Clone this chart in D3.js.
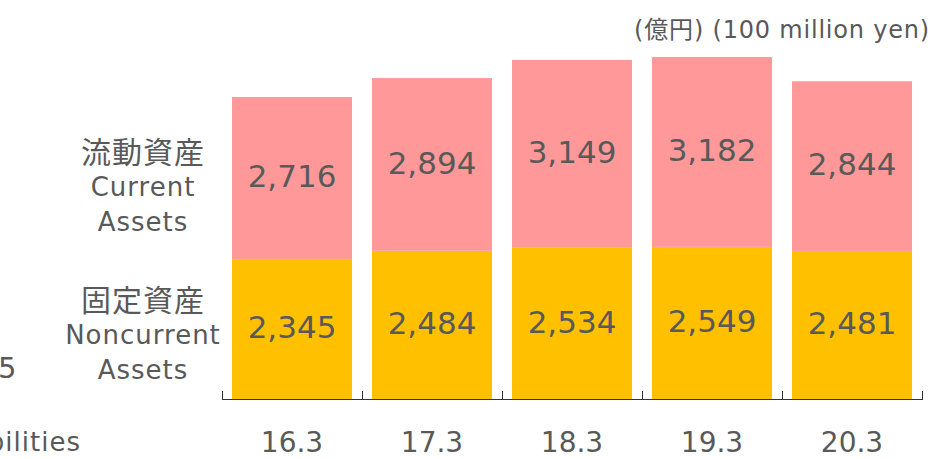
<!DOCTYPE html>
<html>
<head>
<meta charset="utf-8">
<script src="https://cdn.jsdelivr.net/npm/d3@7"></script>
<style>
  body { margin: 0; background: #fff; }
  text { font-family: "DejaVu Sans", "Noto Sans CJK JP", sans-serif; fill: #595959; }
  .cjk { font-family: "Noto Sans CJK JP", sans-serif; }
</style>
</head>
<body>
<div id="chart"></div>
<script>
var svgWidth = 935;
var svgHeight = 459;

// data
var periods = ["16.3", "17.3", "18.3", "19.3", "20.3"];
var noncurrent = [2345, 2484, 2534, 2549, 2481];
var current = [2716, 2894, 3149, 3182, 2844];
var seriesNames = [["固定資産", "Noncurrent", "Assets"], ["流動資産", "Current", "Assets"]];
var colors = ["#FFC000", "#FF9999"];

var svg = d3.select("#chart")
  .append("svg")
  .attr("width", svgWidth)
  .attr("height", svgHeight);

var x = d3.scaleBand()
  .domain(periods)
  .range([222, 922])
  .paddingInner(1 / 7)
  .paddingOuter(1 / 14);

var totals = periods.map((p, i) => noncurrent[i] + current[i]);
var y = d3.scaleLinear()
  .domain([0, d3.max(totals)])
  .range([399, 57]);

var stackData = periods.map((p, i) => ({ period: p, noncurrent: noncurrent[i], current: current[i] }));
var stack = d3.stack().keys(["noncurrent", "current"])(stackData);

var layers = svg.selectAll("g.layer")
  .data(stack)
  .enter()
  .append("g")
  .attr("class", "layer")
  .attr("fill", (d, i) => colors[i]);

layers.selectAll("rect")
  .data(d => d)
  .enter()
  .append("rect")
  .attr("x", d => x(d.data.period))
  .attr("width", x.bandwidth())
  .attr("y", d => y(d[1]))
  .attr("height", d => y(d[0]) - y(d[1]));

// value labels
layers.selectAll("text.val")
  .data(d => d)
  .enter()
  .append("text")
  .attr("class", "val")
  .attr("x", d => x(d.data.period) + x.bandwidth() / 2)
  .attr("y", d => (y(d[0]) + y(d[1])) / 2 - 2)
  .attr("dy", "0.36em")
  .attr("text-anchor", "middle")
  .attr("font-size", "31px")
  .text(d => d3.format(",")(d[1] - d[0]));

// x axis with ticks between categories
var axisG = svg.append("g");
axisG.append("line")
  .attr("x1", 222).attr("x2", 922)
  .attr("y1", 399.5).attr("y2", 399.5)
  .attr("stroke", "#333").attr("stroke-width", 1);
var tickXs = periods.map(p => x(p) - x.step() * x.paddingInner() / 2).concat([922]);
axisG.selectAll("line.tick")
  .data(tickXs)
  .enter()
  .append("line")
  .attr("class", "tick")
  .attr("x1", d => Math.round(d) + 0.5).attr("x2", d => Math.round(d) + 0.5)
  .attr("y1", 391).attr("y2", 400)
  .attr("stroke", "#333").attr("stroke-width", 1);

svg.selectAll("text.cat")
  .data(periods)
  .enter()
  .append("text")
  .attr("class", "cat")
  .attr("x", d => x(d) + x.bandwidth() / 2)
  .attr("y", 442)
  .attr("dy", "0.36em")
  .attr("text-anchor", "middle")
  .attr("font-size", "28px")
  .text(d => d);

// series labels on the left
var labelCenters = [335, 187];
seriesNames.forEach(function(lines, i) {
  lines.forEach(function(l, j) {
    svg.append("text")
      .attr("class", j === 0 ? "cjk" : null)
      .attr("x", 143)
      .attr("y", labelCenters[i] + (j - 1) * 35)
      .attr("dy", "0.36em")
      .attr("text-anchor", "middle")
      .attr("font-size", j === 0 ? "30px" : "26px")
      .attr("letter-spacing", "1px")
      .text(l);
  });
});

// unit
var unit = svg.append("text")
  .attr("x", 930)
  .attr("y", 29)
  .attr("dy", "0.36em")
  .attr("text-anchor", "end")
  .attr("font-size", "24px")
  .attr("letter-spacing", "0.8px");
unit.append("tspan").text("(");
unit.append("tspan").attr("class", "cjk").text("億円");
unit.append("tspan").text(") ");
unit.append("tspan").text("(100 million yen)");

// pieces of the neighbouring chart cut off at the left edge
svg.append("text")
  .attr("x", -2).attr("y", 368).attr("dy", "0.36em")
  .attr("font-size", "29px")
  .text("5");
svg.append("text")
  .attr("x", 81).attr("y", 442).attr("dy", "0.36em")
  .attr("text-anchor", "end").attr("font-size", "26px")
  .attr("letter-spacing", "1px")
  .text("bilities");
</script>
</body>
</html>
